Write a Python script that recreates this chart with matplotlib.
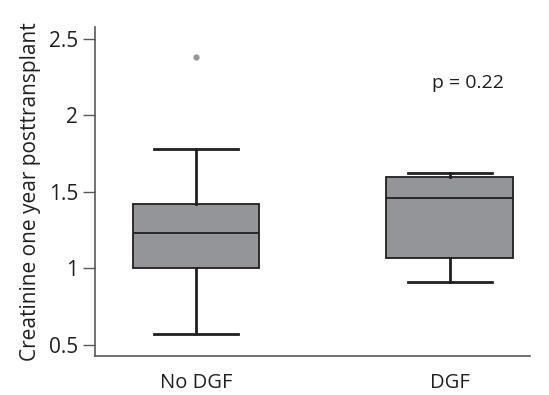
import matplotlib
matplotlib.use('Agg')
import matplotlib.pyplot as plt

# ── Data ────────────────────────────────────────────────────────
groups = ['No DGF', 'DGF']
q1 = [1.00, 1.07]
medians = [1.23, 1.46]
q3 = [1.42, 1.60]
whis_lo = [0.57, 0.91]
whis_hi = [1.78, 1.62]
fliers = [[2.38], []]
p_text = 'p = 0.22'

box_color = '#939598'
edge_color = '#231f20'
spine_color = '#58595b'

plt.rcParams['font.family'] = ['Open Sans', 'DejaVu Sans']

fig = plt.figure(figsize=(5.49, 3.95), dpi=100)
ax = fig.add_axes([0.173, 0.099, 0.792, 0.833])

stats = []
for i, name in enumerate(groups):
    stats.append(dict(label=name, med=medians[i], q1=q1[i], q3=q3[i],
                      whislo=whis_lo[i], whishi=whis_hi[i], fliers=fliers[i]))

ax.bxp(stats, positions=[1, 2], widths=0.5, patch_artist=True,
       boxprops=dict(facecolor=box_color, edgecolor=edge_color, linewidth=1.3),
       medianprops=dict(color=edge_color, linewidth=1.3),
       whiskerprops=dict(color=edge_color, linewidth=2),
       capprops=dict(color=edge_color, linewidth=2),
       capwidths=0.33,
       flierprops=dict(marker='o', markersize=4.5, markerfacecolor=box_color,
                       markeredgecolor='none'))

ax.text(2.07, 2.21, p_text, ha='center', va='center', fontsize=14, color='#231f20')

ax.set_xlim(0.602, 2.315)
ax.set_ylim(0.428, 2.578)
ax.set_yticks([0.5, 1, 1.5, 2, 2.5])
ax.set_yticklabels(['0.5', '1', '1.5', '2', '2.5'])
ax.set_xticks([1, 2])
ax.set_xticklabels(groups)

ax.spines['top'].set_visible(False)
ax.spines['right'].set_visible(False)
for s in ('left', 'bottom'):
    ax.spines[s].set_color(spine_color)
    ax.spines[s].set_linewidth(1.2)

ax.tick_params(axis='y', length=9, width=1, color=spine_color, labelsize=15,
               labelcolor='#231f20', pad=3)
ax.tick_params(axis='x', length=0, labelsize=14.5, labelcolor='#231f20', pad=12)

ax.set_ylabel('Creatinine one year posttransplant', fontsize=15,
              color='#231f20', labelpad=6)

fig.savefig('out.png', dpi=100)
